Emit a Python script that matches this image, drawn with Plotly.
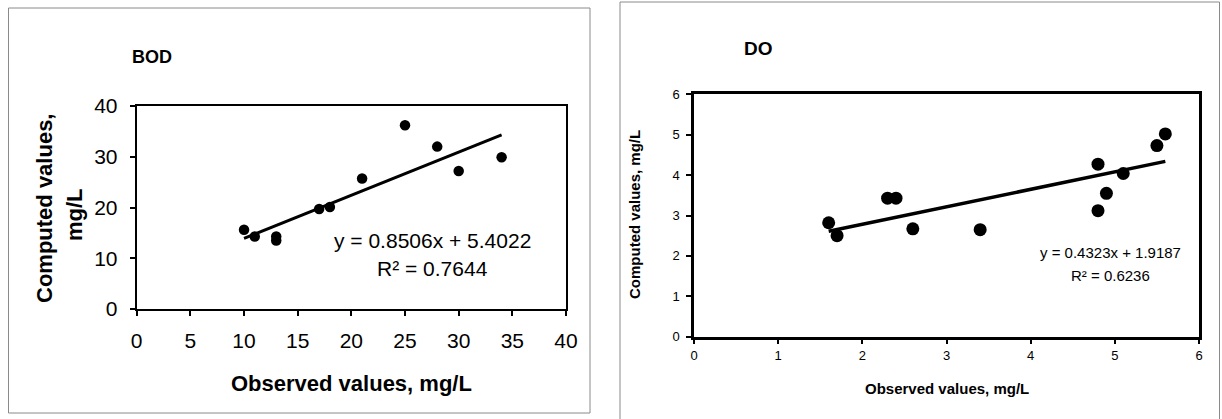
import plotly.graph_objects as go

# ---------------- data ----------------
bod_observed = [10, 11, 13, 13, 17, 18, 21, 25, 28, 30, 34]
bod_computed = [15.6, 14.3, 14.3, 13.5, 19.7, 20.1, 25.7, 36.2, 32.0, 27.2, 29.9]
bod_slope, bod_intercept, bod_r2 = 0.8506, 5.4022, 0.7644

do_observed = [1.6, 1.7, 2.3, 2.4, 2.6, 3.4, 4.8, 4.8, 4.9, 5.1, 5.5, 5.6]
do_computed = [2.82, 2.50, 3.43, 3.43, 2.67, 2.65, 4.27, 3.12, 3.55, 4.04, 4.73, 5.02]
do_slope, do_intercept, do_r2 = 0.4323, 1.9187, 0.6236

bod_ticks = [0, 5, 10, 15, 20, 25, 30, 35, 40]
bod_yticks = [0, 10, 20, 30, 40]
do_ticks = [0, 1, 2, 3, 4, 5, 6]

# ---------------- layout helpers ----------------
W, H = 1222, 419
FONT = "Liberation Sans, Arial, sans-serif"


def px(x):
    return x / W


def py(y):
    return 1 - y / H


def trend(xs, m, b):
    x0, x1 = min(xs), max(xs)
    return [x0, x1], [m * x0 + b, m * x1 + b]


fig = go.Figure()

# BOD panel
fig.add_trace(go.Scatter(x=bod_observed, y=bod_computed, mode="markers",
                         marker=dict(color="black", size=10.5),
                         xaxis="x", yaxis="y", showlegend=False))
tx, ty = trend(bod_observed, bod_slope, bod_intercept)
fig.add_trace(go.Scatter(x=tx, y=ty, mode="lines",
                         line=dict(color="black", width=3),
                         xaxis="x", yaxis="y", showlegend=False))

# DO panel
fig.add_trace(go.Scatter(x=do_observed, y=do_computed, mode="markers",
                         marker=dict(color="black", size=13),
                         xaxis="x2", yaxis="y2", showlegend=False))
tx, ty = trend(do_observed, do_slope, do_intercept)
fig.add_trace(go.Scatter(x=tx, y=ty, mode="lines",
                         line=dict(color="black", width=3.5),
                         xaxis="x2", yaxis="y2", showlegend=False))

axis_common = dict(showgrid=False, zeroline=False, showline=True, mirror=True,
                   linecolor="black", ticks="outside", tickcolor="black",
                   ticklen=5, tickwidth=1.5, fixedrange=True, automargin=False)

fig.update_layout(
    width=W, height=H,
    margin=dict(l=0, r=0, t=0, b=0, autoexpand=False),
    paper_bgcolor="white", plot_bgcolor="white",
    font=dict(family=FONT, color="black"),
    xaxis=dict(domain=[px(136.7), px(566)], range=[0, 40], tickvals=bod_ticks,
               anchor="y", linewidth=2, ticklabelstandoff=7,
               tickfont=dict(size=21, family=FONT), **axis_common),
    yaxis=dict(domain=[py(309), py(106)], range=[0, 40], tickvals=bod_yticks,
               anchor="x", linewidth=2, ticklabelstandoff=8,
               tickfont=dict(size=21, family=FONT), **axis_common),
    xaxis2=dict(domain=[px(694), px(1199)], range=[0, 6], tickvals=do_ticks,
                anchor="y2", linewidth=2.5, ticklabelstandoff=0,
                tickfont=dict(size=13, family=FONT), **axis_common),
    yaxis2=dict(domain=[py(336.7), py(94.3)], range=[0, 6], tickvals=do_ticks,
                anchor="x2", linewidth=2.5, ticklabelstandoff=4,
                tickfont=dict(size=13, family=FONT), **axis_common),
)

# panel frames
fig.add_shape(type="rect", xref="paper", yref="paper",
              x0=px(8.5), x1=px(590), y0=py(413), y1=py(8),
              line=dict(color="#8a8a8a", width=1), layer="below")
fig.add_shape(type="rect", xref="paper", yref="paper",
              x0=px(620), x1=px(1219.5), y0=py(425), y1=py(2),
              line=dict(color="#8a8a8a", width=1), layer="below")


def note(text, x, y, size, bold=False, angle=0):
    fig.add_annotation(text=text, xref="paper", yref="paper", x=px(x), y=py(y),
                       xanchor="center", yanchor="middle", showarrow=False,
                       textangle=angle,
                       font=dict(family=FONT, size=size, color="black",
                                 weight="bold" if bold else "normal"))


# BOD texts
note("BOD", 152, 57, 18, bold=True)
note("Observed values, mg/L", 351, 383, 22, bold=True)
note("Computed values,", 44, 209, 22, bold=True, angle=-90)
note("mg/L", 74, 215, 22, bold=True, angle=-90)
note(f"y = {bod_slope:.4f}x + {bod_intercept:.4f}", 432, 240, 21)
note(f"R² = {bod_r2:.4f}", 432, 268, 21)

# DO texts
note("DO", 758, 48, 19, bold=True)
note("Observed values, mg/L", 947, 388, 15, bold=True)
note("Computed values, mg/L", 635, 214, 15, bold=True, angle=-90)
note(f"y = {do_slope:.4f}x + {do_intercept:.4f}", 1110, 252, 15)
note(f"R² = {do_r2:.4f}", 1110, 275, 15)

fig.write_html(
    "out.html",
    config={"displayModeBar": False},
    post_script="document.body.style.margin='0';"
                "document.body.style.overflow='hidden';",
)
